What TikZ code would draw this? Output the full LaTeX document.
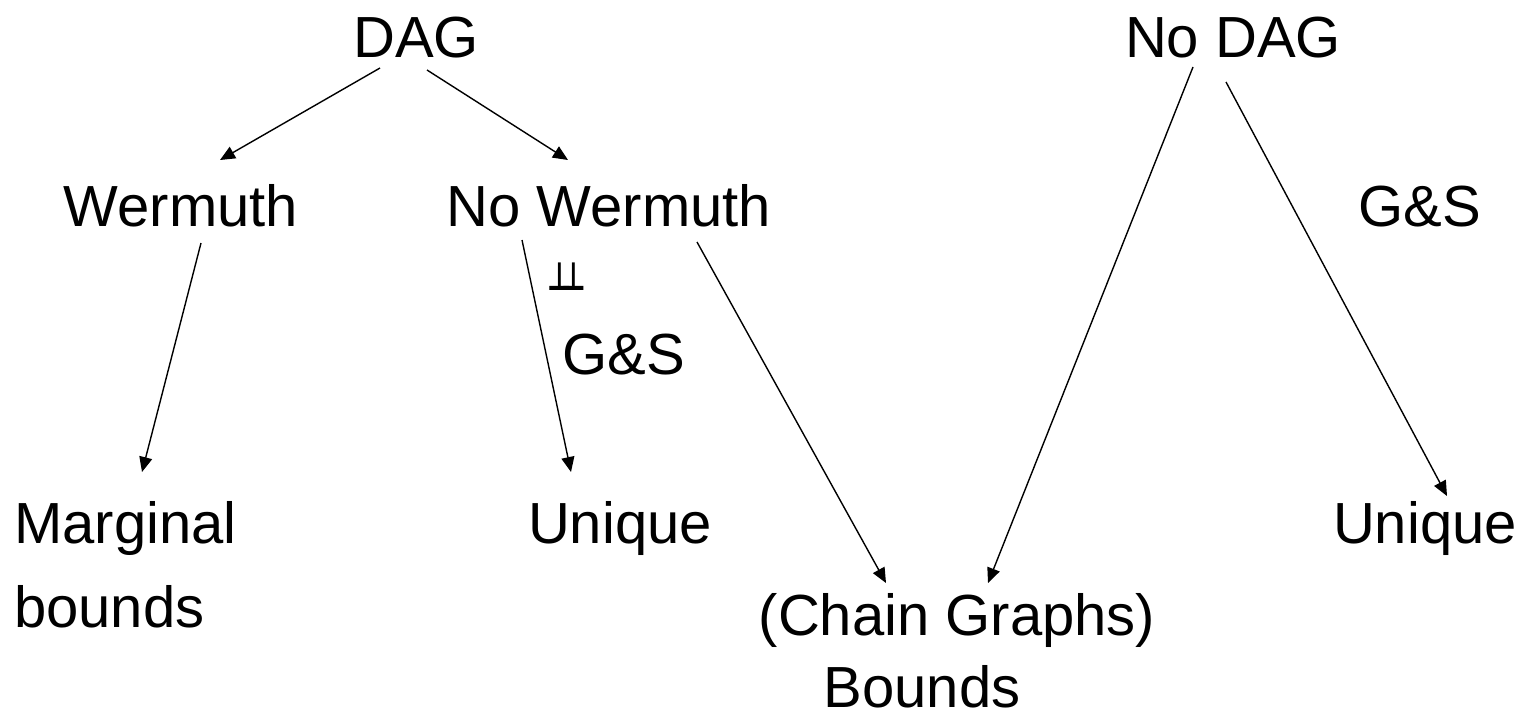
\documentclass[tikz,border=0pt]{standalone}
\usepackage{fontspec}
\setmainfont{Liberation Sans}
\newfontfamily\symfont{DejaVu Sans}
\usetikzlibrary{arrows.meta}
\tikzset{
  lbl/.style={inner sep=0pt, anchor=base, font=\fontsize{58}{66}\selectfont},
  lbll/.style={inner sep=0pt, anchor=base west, font=\fontsize{58}{66}\selectfont},
  arr/.style={line width=1.4pt, -{Triangle[length=15pt,width=13pt]}}
}
\begin{document}
\begin{tikzpicture}[x=1pt,y=-1pt]
\useasboundingbox (0,0) rectangle (1534,718);
% nodes
\node[lbl] (dag) at (416,57) {DAG};
\node[lbl] (nodag) at (1233,57) {No DAG};
\node[lbl] (werm) at (181,226) {Wermuth};
\node[lbl] (nowerm) at (609,226) {No Wermuth};
\node[lbl] (gsr) at (1420,226) {G\&S};
\node[inner sep=0pt, anchor=base, font=\symfont\bfseries\fontsize{27}{30}\selectfont] (indep) at (567,290) {\scalebox{1}[1.45]{⊥\kern-0.42em⊥}};
\node[lbl] (gsm) at (624,374) {G\&S};
\node[lbll] (marg) at (14,543) {Marginal};
\node[lbll] (margb) at (14,627) {bounds};
\node[lbl] (uniqm) at (620,543) {Unique};
\node[lbl] (uniqr) at (1425,543) {Unique};
\node[lbl] (chain) at (957,635) {(Chain Graphs)};
\node[lbl] (chainb) at (922,707) {Bounds};
% connector end points
\coordinate (a1s) at (380,68);  \coordinate (a1e) at (220,160);
\coordinate (a2s) at (427,70);  \coordinate (a2e) at (568,160);
\coordinate (a3s) at (201,243); \coordinate (a3e) at (142,472);
\coordinate (a4s) at (522,240); \coordinate (a4e) at (571,472);
\coordinate (a5s) at (697,242); \coordinate (a5e) at (886,583);
\coordinate (a6s) at (1193,67); \coordinate (a6e) at (988,583);
\coordinate (a7s) at (1226,82); \coordinate (a7e) at (1447,496);
\draw[arr] (a1s) -- (a1e);
\draw[arr] (a2s) -- (a2e);
\draw[arr] (a3s) -- (a3e);
\draw[arr] (a4s) -- (a4e);
\draw[arr] (a5s) -- (a5e);
\draw[arr] (a6s) -- (a6e);
\draw[arr] (a7s) -- (a7e);
\end{tikzpicture}
\end{document}
